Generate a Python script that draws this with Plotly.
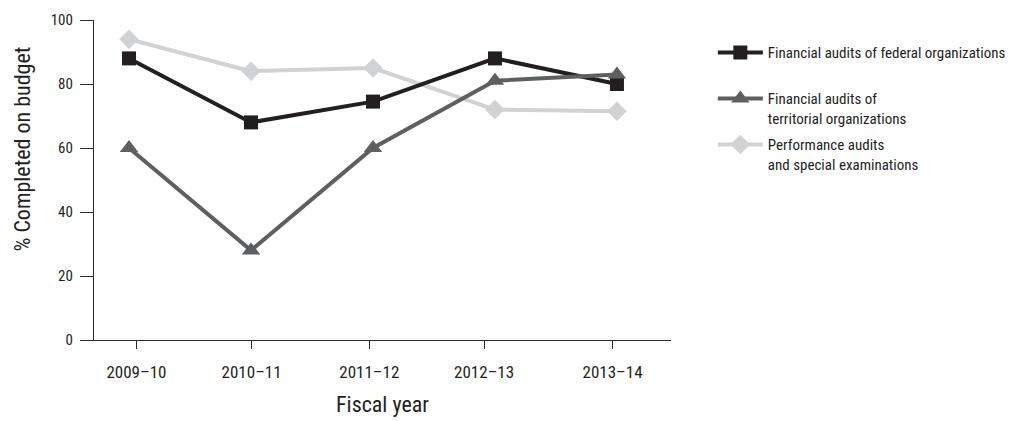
import plotly.graph_objects as go

# Fiscal years and the share of audits completed on budget (%)
years = ["2009–10", "2010–11", "2011–12", "2012–13", "2013–14"]
federal = [88, 68, 74.5, 88, 80]
territorial = [60, 28, 60, 81, 83]
performance = [94, 84, 85, 72, 71.5]

names = [
    "Financial audits of federal organizations<br> ",
    "Financial audits of<br>territorial organizations",
    "Performance audits<br>and special examinations",
]

FONT = "Liberation Sans Narrow, Roboto Condensed, DejaVu Sans Condensed, Arial Narrow, sans-serif"
AXIS_COLOR = "#2b2b2b"

x_idx = list(range(len(years)))
# tick marks sit slightly off the point positions on the category scale
tick_pos = [0.061, 1.005, 1.97, 2.911, 3.964]

fig = go.Figure()

fig.add_trace(go.Scatter(
    x=x_idx, y=performance, name=names[2], legendrank=3, legendgroup="c",
    mode="lines+markers",
    line=dict(color="#d1d2d4", width=4),
    marker=dict(symbol="diamond", size=15, color="#d1d2d4"),
))
fig.add_trace(go.Scatter(
    x=x_idx, y=federal, name=names[0], legendrank=1, legendgroup="a",
    mode="lines+markers",
    line=dict(color="#231f20", width=4),
    marker=dict(symbol="square", size=14, color="#231f20"),
))
fig.add_trace(go.Scatter(
    x=x_idx, y=territorial, name=names[1], legendrank=2, legendgroup="b",
    mode="lines+markers",
    line=dict(color="#5e5f61", width=4),
    marker=dict(symbol="triangle-up", size=16, color="#5e5f61"),
))

fig.update_layout(
    width=1010, height=421,
    margin=dict(l=94, r=339, t=20, b=81, autoexpand=False),
    paper_bgcolor="white", plot_bgcolor="white",
    font=dict(family=FONT, color="#231f20"),
    showlegend=True,
    legend=dict(
        x=1.0725, xanchor="left", y=0.949, yanchor="top",
        font=dict(size=15, family=FONT, color="#231f20"),
        itemwidth=45, tracegroupgap=4, valign="top",
        bgcolor="rgba(0,0,0,0)",
    ),
    xaxis=dict(
        range=[-0.287, 4.443],
        tickmode="array", tickvals=tick_pos, ticktext=years,
        showgrid=False, zeroline=False,
        showline=True, linecolor=AXIS_COLOR, linewidth=1.3,
        ticks="outside", ticklen=8, tickwidth=1.3, tickcolor=AXIS_COLOR,
        tickfont=dict(size=17, family=FONT, color="#231f20"),
        ticklabelstandoff=8,
    ),
    yaxis=dict(
        range=[0, 100],
        tickvals=[0, 20, 40, 60, 80, 100],
        showgrid=False, zeroline=False,
        showline=True, linecolor=AXIS_COLOR, linewidth=1.3,
        ticks="outside", ticklen=13, tickwidth=1.3, tickcolor=AXIS_COLOR,
        tickfont=dict(size=15, family=FONT, color="#231f20"),
        ticklabelstandoff=4,
    ),
    annotations=[
        dict(
            text="% Completed on budget", textangle=-90,
            xref="paper", yref="paper", x=-0.1237, y=0.597,
            xanchor="center", yanchor="middle", showarrow=False,
            font=dict(size=22, family=FONT, color="#231f20"),
        ),
        dict(
            text="Fiscal year",
            xref="paper", yref="paper", x=0.5, y=-0.203,
            xanchor="center", yanchor="middle", showarrow=False,
            font=dict(size=22, family=FONT, color="#231f20"),
        ),
    ],
)

fig.write_html("out.html")
